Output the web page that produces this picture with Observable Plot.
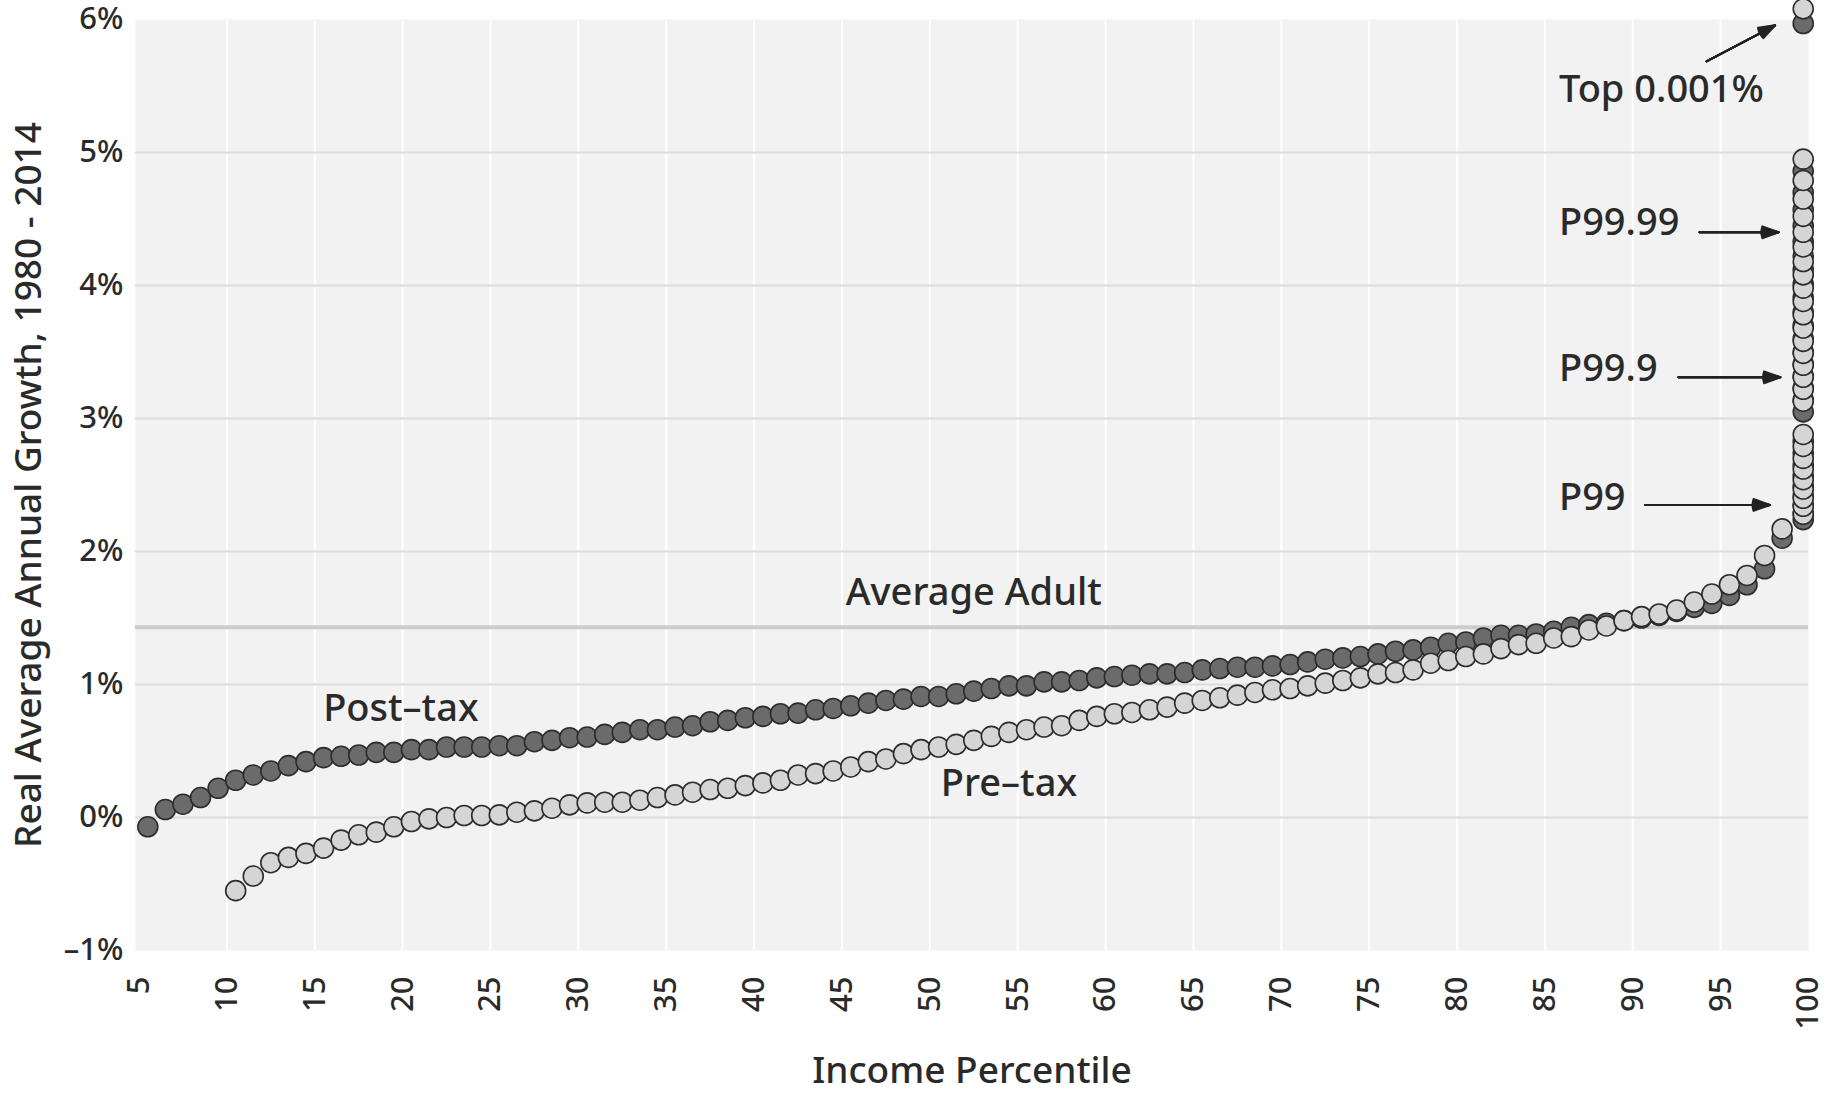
<!DOCTYPE html>
<html>
<head>
<meta charset="utf-8">
<script src="https://cdn.jsdelivr.net/npm/d3@7"></script>
<script src="https://cdn.jsdelivr.net/npm/@observablehq/plot@0.6"></script>
<style>
  html, body { margin: 0; padding: 0; background: #ffffff; }
  #chart svg { display: block; }
</style>
</head>
<body>
<div id="chart"></div>
<script>
// ---- Data ----
// Percentile groups p..p+1 for the bottom 99%, plotted at their mid-point
const postTaxPercentiles = [5,6,7,8,9,10,11,12,13,14,15,16,17,18,19,20,21,22,23,24,25,26,27,28,29,30,31,32,33,34,35,36,37,38,39,40,41,42,43,44,45,46,47,48,49,50,51,52,53,54,55,56,57,58,59,60,61,62,63,64,65,66,67,68,69,70,71,72,73,74,75,76,77,78,79,80,81,82,83,84,85,86,87,88,89,90,91,92,93,94,95,96,97,98];
const postTaxGrowth = [-0.07,0.06,0.10,0.15,0.22,0.28,0.32,0.35,0.39,0.42,0.45,0.46,0.47,0.49,0.49,0.51,0.51,0.53,0.53,0.53,0.54,0.54,0.57,0.58,0.60,0.605,0.625,0.64,0.66,0.66,0.68,0.69,0.72,0.73,0.75,0.76,0.78,0.785,0.81,0.82,0.84,0.86,0.88,0.89,0.91,0.91,0.93,0.95,0.97,0.99,0.99,1.02,1.02,1.03,1.05,1.06,1.07,1.08,1.08,1.09,1.11,1.12,1.13,1.13,1.14,1.15,1.17,1.19,1.20,1.21,1.23,1.25,1.26,1.28,1.31,1.32,1.35,1.37,1.37,1.38,1.40,1.43,1.45,1.46,1.48,1.50,1.52,1.55,1.58,1.61,1.67,1.75,1.87,2.10];

const preTaxPercentiles = [10,11,12,13,14,15,16,17,18,19,20,21,22,23,24,25,26,27,28,29,30,31,32,33,34,35,36,37,38,39,40,41,42,43,44,45,46,47,48,49,50,51,52,53,54,55,56,57,58,59,60,61,62,63,64,65,66,67,68,69,70,71,72,73,74,75,76,77,78,79,80,81,82,83,84,85,86,87,88,89,90,91,92,93,94,95,96,97,98];
const preTaxGrowth = [-0.55,-0.44,-0.34,-0.30,-0.27,-0.23,-0.17,-0.13,-0.11,-0.07,-0.03,-0.01,0.00,0.015,0.015,0.02,0.04,0.05,0.07,0.095,0.11,0.115,0.115,0.13,0.15,0.17,0.19,0.21,0.22,0.24,0.26,0.28,0.32,0.33,0.35,0.38,0.42,0.44,0.48,0.51,0.53,0.55,0.58,0.61,0.64,0.66,0.68,0.69,0.73,0.76,0.78,0.79,0.81,0.83,0.86,0.88,0.90,0.92,0.94,0.96,0.97,0.99,1.01,1.03,1.05,1.08,1.09,1.11,1.16,1.18,1.21,1.23,1.27,1.30,1.31,1.35,1.36,1.41,1.44,1.48,1.51,1.53,1.56,1.62,1.68,1.75,1.82,1.97,2.17];

// Top 1% split into finer groups, all stacked at the right edge
const topGroups = ["P99","P99.1","P99.2","P99.3","P99.4","P99.5","P99.6","P99.7","P99.8",
                   "P99.9","P99.91","P99.92","P99.93","P99.94","P99.95","P99.96","P99.97","P99.98",
                   "P99.99","P99.991","P99.992","P99.993","P99.994","P99.995","P99.996","P99.997","P99.998",
                   "P99.999"];
const topX = 99.7;
const topPostTax = [2.24,2.29,2.35,2.42,2.49,2.57,2.65,2.74,2.83,
                    3.05,3.14,3.23,3.32,3.41,3.50,3.60,3.70,3.80,
                    3.91,4.01,4.12,4.22,4.33,4.45,4.57,4.70,4.86,
                    5.97];
const topPreTax = [2.28,2.34,2.40,2.47,2.54,2.62,2.70,2.79,2.88,
                   3.13,3.22,3.31,3.40,3.49,3.58,3.68,3.78,3.88,
                   3.98,4.08,4.18,4.29,4.40,4.52,4.65,4.79,4.95,
                   6.08];

const averageAdult = 1.43;

const xTicks = [5,10,15,20,25,30,35,40,45,50,55,60,65,70,75,80,85,90,95,100];
const xGridValues = [10,15,20,25,30,35,40,45,50,55,60,65,70,75,80,85,90,95];
const yTicks = [-1,0,1,2,3,4,5,6];
const yGridValues = [0,1,2,3,4,5];

// Annotations (in data units)
const centerLabels = ["Average Adult","Post\u2013tax","Pre\u2013tax"];
const centerLabelX = [52.5, 19.9, 54.5];
const centerLabelY = [1.69, 0.82, 0.25];
const sideLabels = ["Top 0.001%","P99.99","P99.9","P99"];
const sideLabelX = [85.8, 85.8, 85.8, 85.8];
const sideLabelY = [5.47, 4.47, 3.37, 2.40];

const arrowX1 = [94.2, 93.8, 92.6, 90.7];
const arrowY1 = [5.685, 4.40, 3.31, 2.35];
const arrowX2 = [98.1, 98.3, 98.4, 97.8];
const arrowY2 = [5.956, 4.40, 3.31, 2.35];
const arrowHeadAngles = [8, 16, 24, 32, 40];

const xTitle = "Income Percentile";
const yTitle = "Real Average Annual Growth, 1980 - 2014";

// ---- Build tables ----
const postData = postTaxPercentiles.map((p, i) => ({x: p + 0.5, y: postTaxGrowth[i]}))
  .concat(topGroups.map((g, i) => ({x: topX, y: topPostTax[i], g})));
const preData = preTaxPercentiles.map((p, i) => ({x: p + 0.5, y: preTaxGrowth[i]}))
  .concat(topGroups.map((g, i) => ({x: topX, y: topPreTax[i], g})));
const cLabels = centerLabels.map((t, i) => ({t, x: centerLabelX[i], y: centerLabelY[i]}));
const sLabels = sideLabels.map((t, i) => ({t, x: sideLabelX[i], y: sideLabelY[i]}));
const arrows = arrowX1.map((x1, i) => ({x1, y1: arrowY1[i], x2: arrowX2[i], y2: arrowY2[i]}));

const FONT = "'Noto Sans', 'Open Sans', sans-serif";
const TEXT = "#2a2a2a";
const ANNOT_SIZE = 38;

const chart = Plot.plot({
  width: 1832,
  height: 1095,
  marginTop: 19,
  marginBottom: 145,
  marginLeft: 135,
  marginRight: 24,
  style: {fontFamily: FONT, fontSize: "31px", fontWeight: 500, color: TEXT, background: "#ffffff", overflow: "visible"},
  x: {domain: [4.8, 100], ticks: xTicks, tickFormat: d => String(d), tickRotate: -90, tickSize: 0, tickPadding: 26, label: null},
  y: {domain: [-1, 6], ticks: yTicks, tickFormat: d => (d < 0 ? "\u2013" + (-d) : String(d)) + "%", tickSize: 0, tickPadding: 12, label: null},
  marks: [
    Plot.frame({fill: "#f2f2f2", stroke: "none"}),
    Plot.gridX(xGridValues, {stroke: "#ffffff", strokeOpacity: 1, strokeWidth: 2}),
    Plot.gridY(yGridValues, {stroke: "#dcdcdc", strokeOpacity: 1, strokeWidth: 2}),
    Plot.ruleY([averageAdult], {stroke: "#cccccc", strokeWidth: 4}),
    Plot.dot(postData, {x: "x", y: "y", r: 10, fill: "#6b6b6b", stroke: "#2c2c2c", strokeWidth: 1.6}),
    Plot.dot(preData, {x: "x", y: "y", r: 10, fill: "#d5d5d5", stroke: "#2c2c2c", strokeWidth: 1.6}),
    Plot.text(cLabels, {x: "x", y: "y", text: "t", textAnchor: "middle", fontSize: ANNOT_SIZE, fill: TEXT}),
    Plot.text(sLabels, {x: "x", y: "y", text: "t", textAnchor: "start", fontSize: ANNOT_SIZE, fill: TEXT}),
    ...arrowHeadAngles.map(a =>
      Plot.arrow(arrows, {x1: "x1", y1: "y1", x2: "x2", y2: "y2", stroke: "#222", strokeWidth: 2, headLength: 13, headAngle: a})),
    Plot.text([xTitle], {frameAnchor: "bottom", dy: 121, lineAnchor: "middle", textAnchor: "middle", text: d => d, fontSize: 37, fill: TEXT}),
    Plot.text([yTitle], {frameAnchor: "left", dx: -106, rotate: -90, lineAnchor: "middle", textAnchor: "middle", text: d => d, fontSize: 37, fill: TEXT})
  ]
});
document.getElementById("chart").appendChild(chart);
</script>
</body>
</html>
